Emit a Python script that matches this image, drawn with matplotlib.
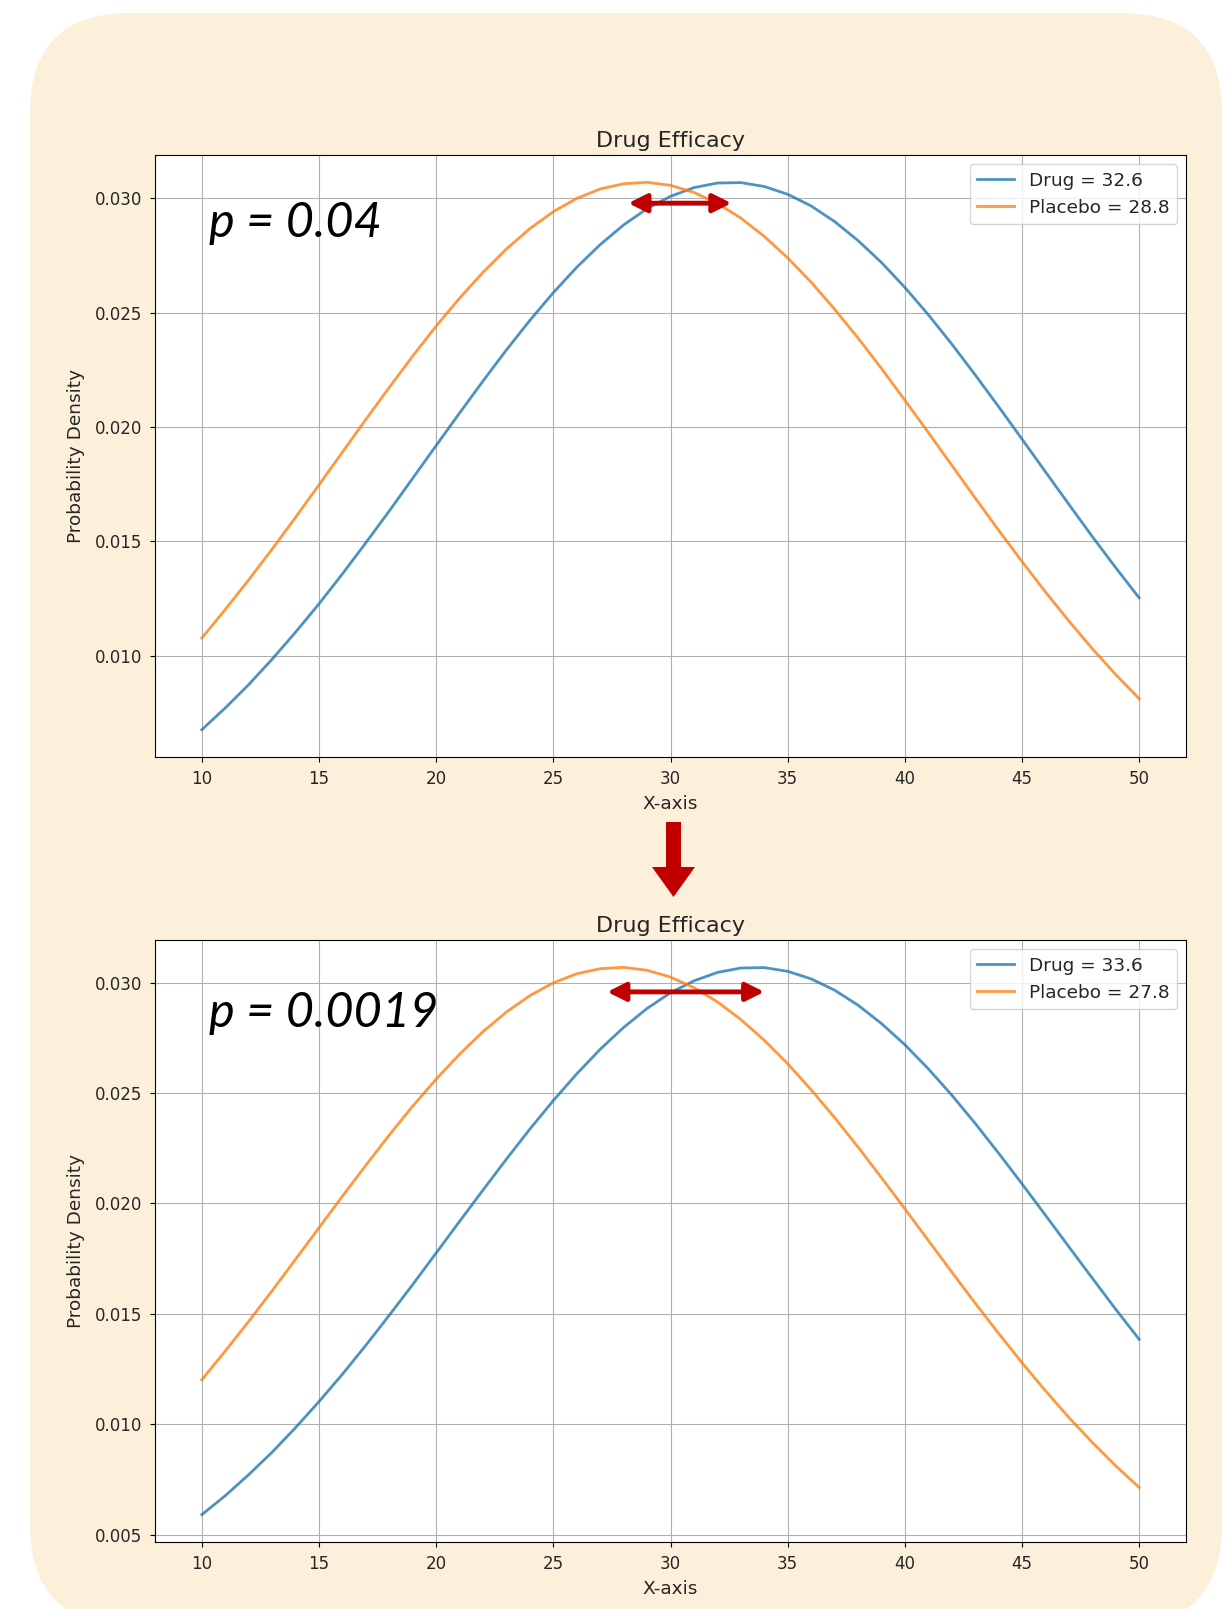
import matplotlib
matplotlib.use("Agg")
import matplotlib.pyplot as plt
from matplotlib.patches import FancyBboxPatch, Polygon
from matplotlib.transforms import IdentityTransform

x_vals = list(range(10, 51))

# top panel
drug_top = [0.00677, 0.00772, 0.00874, 0.00985, 0.01103, 0.01227, 0.01358,
            0.01494, 0.01633, 0.01776, 0.01919, 0.02061, 0.02201, 0.02337,
            0.02466, 0.02587, 0.02698, 0.02797, 0.02883, 0.02954, 0.03008,
            0.03046, 0.03066, 0.03068, 0.03051, 0.03017, 0.02966, 0.02898,
            0.02815, 0.02719, 0.02610, 0.02491, 0.02363, 0.02228, 0.02089,
            0.01947, 0.01804, 0.01662, 0.01521, 0.01385, 0.01253]
placebo_top = [0.01078, 0.01202, 0.01332, 0.01466, 0.01605, 0.01747, 0.01890,
               0.02033, 0.02173, 0.02310, 0.02441, 0.02563, 0.02676, 0.02778,
               0.02867, 0.02941, 0.02999, 0.03040, 0.03063, 0.03069, 0.03056,
               0.03025, 0.02977, 0.02913, 0.02833, 0.02739, 0.02633, 0.02515,
               0.02389, 0.02256, 0.02117, 0.01976, 0.01833, 0.01690, 0.01549,
               0.01412, 0.01279, 0.01152, 0.01031, 0.00918, 0.00812]

# bottom panel
drug_bot = [0.00591, 0.00677, 0.00772, 0.00874, 0.00985, 0.01103, 0.01227,
            0.01358, 0.01494, 0.01633, 0.01776, 0.01919, 0.02061, 0.02201,
            0.02337, 0.02466, 0.02587, 0.02698, 0.02797, 0.02883, 0.02954,
            0.03008, 0.03046, 0.03066, 0.03068, 0.03051, 0.03017, 0.02966,
            0.02898, 0.02815, 0.02719, 0.02610, 0.02491, 0.02363, 0.02228,
            0.02089, 0.01947, 0.01804, 0.01662, 0.01521, 0.01385]
placebo_bot = [0.01202, 0.01332, 0.01466, 0.01605, 0.01747, 0.01890, 0.02033,
               0.02173, 0.02310, 0.02441, 0.02563, 0.02676, 0.02778, 0.02867,
               0.02941, 0.02999, 0.03040, 0.03063, 0.03069, 0.03056, 0.03025,
               0.02977, 0.02913, 0.02833, 0.02739, 0.02633, 0.02515, 0.02389,
               0.02256, 0.02117, 0.01976, 0.01833, 0.01690, 0.01549, 0.01412,
               0.01279, 0.01152, 0.01031, 0.00918, 0.00812, 0.00714]

drug_means = [32.6, 33.6]
placebo_means = [28.8, 27.8]
p_labels = ["p = 0.04", "p = 0.0019"]
arrow_spans = [(28.2, 32.6, 0.02978), (27.3, 34.0, 0.02958)]

W, H = 1229, 1609
CREAM = "#FCF0DA"
RED = "#C00000"
TXT = "#262626"

fig = plt.figure(figsize=(W / 100, H / 100), dpi=100)
fig.patch.set_facecolor("white")

# cream rounded panel behind everything (pixel coords, origin bottom-left)
bg = FancyBboxPatch((30, H - 1625), 1192, 1612,
                    boxstyle="round,pad=0,rounding_size=100",
                    facecolor=CREAM, edgecolor="none",
                    transform=IdentityTransform(), zorder=-5)
fig.patches.append(bg)

ax_left = 155 / W
ax_w = (1186 - 155) / W
ax_h = (757 - 155) / H
ax1 = fig.add_axes([ax_left, 1 - 757 / H, ax_w, ax_h])
ax2 = fig.add_axes([ax_left, 1 - 1542 / H, ax_w, ax_h])

panels = [(ax1, drug_top, placebo_top), (ax2, drug_bot, placebo_bot)]
text_pos = [(209 / W, 1 - 237 / H), (209 / W, 1 - 1027 / H)]

for i, (ax, drug, placebo) in enumerate(panels):
    ax.set_facecolor("white")
    ax.plot(x_vals, drug, color="tab:blue", lw=2, alpha=0.8,
            label=f"Drug = {drug_means[i]}")
    ax.plot(x_vals, placebo, color="tab:orange", lw=2, alpha=0.8,
            label=f"Placebo = {placebo_means[i]}")
    ax.set_title("Drug Efficacy", fontsize=16, color=TXT)
    ax.set_xlabel("X-axis", fontsize=13.3, color=TXT, labelpad=5)
    ax.set_ylabel("Probability Density", fontsize=13.3, color=TXT, labelpad=7)
    ax.tick_params(labelsize=12, labelcolor=TXT, pad=6)
    ax.grid(True)
    leg = ax.legend(loc="upper right", fontsize=13.3)
    for t in leg.get_texts():
        t.set_color(TXT)
    x0, x1, ya = arrow_spans[i]
    ax.annotate("", xy=(x1, ya), xytext=(x0, ya),
                arrowprops=dict(arrowstyle="<|-|>,head_length=1.1,head_width=0.55",
                                color=RED, lw=3.5, mutation_scale=10,
                                shrinkA=0, shrinkB=0))
    fig.text(text_pos[i][0], text_pos[i][1], p_labels[i],
             fontsize=35, fontstyle="italic", family=["Lato", "DejaVu Sans"],
             va="baseline", ha="left")

# red down arrow between the panels
pts = [(666, 822), (681, 822), (681, 867), (695, 867),
       (673.5, 897), (652, 867), (666, 867)]
fig.patches.append(Polygon([(px / W, 1 - py / H) for px, py in pts],
                           closed=True, facecolor=RED, edgecolor="none",
                           transform=fig.transFigure))

fig.savefig("out.png", dpi=100)
